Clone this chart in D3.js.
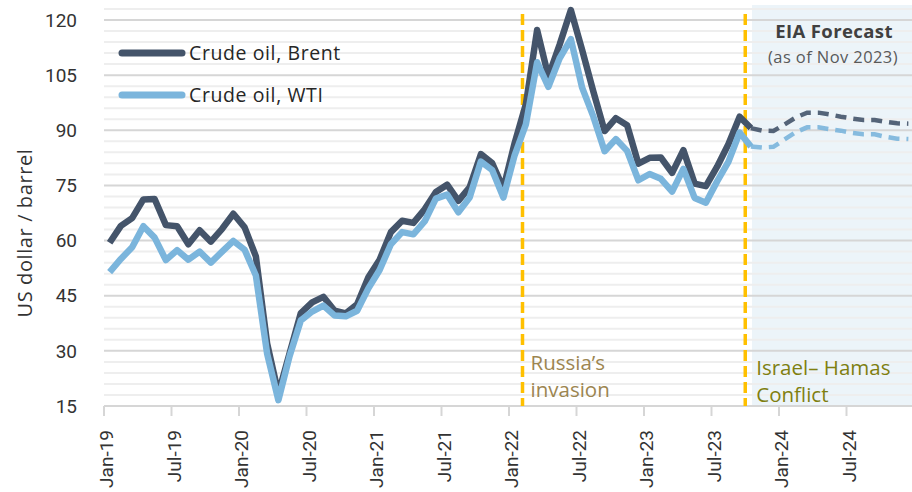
<!DOCTYPE html>
<html><head><meta charset="utf-8">
<script src="https://cdn.jsdelivr.net/npm/d3@7"></script>
<style>body{margin:0;background:#fff}svg{display:block}</style>
</head><body>
<svg id="c" width="912" height="492"></svg>
<script>
// ---- data ----
const brentActual = [
  59.4, 64.0, 66.1, 71.2, 71.3, 64.2, 63.9, 59.0, 62.8, 59.7, 63.2, 67.3,
  63.6, 55.7, 32.0, 18.4, 29.4, 40.3, 43.2, 44.7, 40.9, 40.2, 42.7, 50.0,
  54.8, 62.3, 65.4, 64.8, 68.5, 73.2, 75.2, 70.8, 74.5, 83.5, 81.1, 74.2,
  86.5, 97.1, 117.3, 104.6, 113.3, 122.7, 111.9, 100.5, 89.8, 93.3, 91.4, 80.9,
  82.5, 82.6, 78.4, 84.6, 75.5, 74.8, 80.1, 86.2, 93.7, 90.6
];
const wtiActual = [
  51.4, 55.0, 58.2, 63.9, 60.8, 54.7, 57.4, 54.8, 57.0, 54.0, 57.0, 59.9,
  57.5, 50.5, 29.2, 16.6, 28.6, 38.3, 40.7, 42.3, 39.6, 39.4, 40.9, 47.0,
  52.0, 59.0, 62.3, 61.7, 65.2, 71.4, 72.5, 67.7, 71.7, 81.5, 79.2, 71.7,
  83.2, 91.6, 108.5, 101.8, 109.6, 114.8, 101.6, 93.7, 84.3, 87.6, 84.4, 76.4,
  78.1, 76.8, 73.3, 79.5, 71.6, 70.3, 76.1, 81.4, 89.4, 85.6
];
// forecast: Oct-23 .. Dec-24 (EIA, Nov 2023)
const brentForecast = [90.6, 89.9, 89.8, 91.6, 93.5, 94.8, 94.8, 94.3, 93.7, 93.2, 92.8, 92.8, 92.3, 91.9, 91.8];
const wtiForecast   = [85.6, 85.3, 85.5, 87.5, 89.5, 90.8, 90.8, 90.3, 89.9, 89.3, 88.9, 88.9, 88.2, 87.7, 87.6];
const forecastStartIndex = 57;
const totalMonths = 72;
const xTickLabels = ["Jan-19","Jul-19","Jan-20","Jul-20","Jan-21","Jul-21","Jan-22","Jul-22","Jan-23","Jul-23","Jan-24","Jul-24"];
const yTicks = [15, 30, 45, 60, 75, 90, 105, 120];
const events = [
  {pos: 37.2, lines: ["Russia\u02BCs", "invasion"], color: "#9C8550", dx: 8, y0: 370},
  {pos: 57.0, lines: ["Israel\u2013 Hamas", "Conflict"], color: "#7F7F10", dx: 11, y0: 375}
];
const seriesNames = ["Crude oil, Brent", "Crude oil, WTI"];
const seriesColors = ["#44546A", "#7BB5DC"];

// ---- chart ----
const svg = d3.select("#c");
const x = d3.scaleLinear().domain([0, totalMonths]).range([104, 914]);
const y = d3.scaleLinear().domain([15, 120]).range([406, 20]);
const FONT = "Roboto, 'Noto Sans', sans-serif";
const FONT2 = "'Open Sans', 'Noto Sans', sans-serif";

// forecast shading
const shadeStart = 57.6;
svg.append("rect")
  .attr("x", x(shadeStart)).attr("y", 5)
  .attr("width", 912 - x(shadeStart)).attr("height", y(15) - 5)
  .attr("fill", "#ECF4F9");

// gridlines
const gridVals = d3.range(18, 124, 3);
svg.append("g").selectAll("line").data(gridVals).join("line")
  .attr("x1", x(0)).attr("x2", 912)
  .attr("y1", d => y(d)).attr("y2", d => y(d))
  .attr("stroke", d => (d - 15) % 15 === 0 ? "#D6D6D6" : "#EEEEEE")
  .attr("stroke-width", 2);

// x axis line + ticks
svg.append("line").attr("x1", x(0)).attr("x2", 912)
  .attr("y1", y(15)).attr("y2", y(15))
  .attr("stroke", "#D6D6D6").attr("stroke-width", 2);
const tickPos = xTickLabels.map((d, i) => i * 6);
svg.append("g").selectAll("line").data(tickPos).join("line")
  .attr("x1", d => x(d)).attr("x2", d => x(d))
  .attr("y1", y(15)).attr("y2", y(15) + 10)
  .attr("stroke", "#D6D6D6").attr("stroke-width", 2);
svg.append("g").selectAll("text").data(xTickLabels).join("text")
  .attr("transform", (d, i) => `translate(${x(tickPos[i]) + 9},430) rotate(-90)`)
  .attr("text-anchor", "end")
  .attr("font-family", FONT).attr("font-size", 19).attr("fill", "#333")
  .text(d => d);

// y labels
svg.append("g").selectAll("text").data(yTicks).join("text")
  .attr("x", 77).attr("y", d => y(d)).attr("dy", "0.35em")
  .attr("text-anchor", "end")
  .attr("font-family", FONT).attr("font-size", 19).attr("fill", "#333")
  .text(d => d);
svg.append("text")
  .attr("transform", `translate(32,233) rotate(-90)`)
  .attr("text-anchor", "middle")
  .attr("font-family", FONT2).attr("font-size", 20).attr("letter-spacing", 0.6)
  .attr("fill", "#333")
  .text("US dollar / barrel");

// event lines
events.forEach(ev => {
  svg.append("line")
    .attr("x1", x(ev.pos)).attr("x2", x(ev.pos))
    .attr("y1", 14).attr("y2", y(15))
    .attr("stroke", "#FFC000").attr("stroke-width", 3.5)
    .attr("stroke-dasharray", "11,5");
  ev.lines.forEach((t, k) => {
    svg.append("text")
      .attr("x", x(ev.pos) + ev.dx).attr("y", ev.y0 + k * 27)
      .attr("font-family", FONT2).attr("font-size", 20.5)
      .attr("fill", ev.color).text(t);
  });
});

// forecast header
svg.append("text").attr("x", 834).attr("y", 38).attr("text-anchor", "middle")
  .attr("font-family", FONT2).attr("font-weight", "bold").attr("font-size", 18.5)
  .attr("letter-spacing", 0.4)
  .attr("fill", "#404040").text("EIA Forecast");
svg.append("text").attr("x", 833).attr("y", 63).attr("text-anchor", "middle")
  .attr("font-family", FONT2).attr("font-size", 16.5).attr("letter-spacing", 0.4)
  .attr("fill", "#595959").text("(as of Nov 2023)");

// lines
const line = d3.line().x(d => x(d.i + 0.5)).y(d => y(d.v));
const toPts = (arr, off) => arr.map((v, i) => ({i: i + off, v}));
[brentForecast, wtiForecast].forEach((arr, s) => {
  svg.append("path").datum(toPts(arr, forecastStartIndex))
    .attr("d", line).attr("fill", "none")
    .attr("stroke", seriesColors[s]).attr("stroke-width", 4.5)
    .attr("stroke-dasharray", "11,7").attr("stroke-opacity", 0.9);
});
[brentActual, wtiActual].forEach((arr, s) => {
  svg.append("path").datum(toPts(arr, 0))
    .attr("d", line).attr("fill", "none")
    .attr("stroke", seriesColors[s]).attr("stroke-width", 6.5)
    .attr("stroke-linejoin", "round");
});

// legend
seriesNames.forEach((n, k) => {
  const ly = 53 + k * 42;
  svg.append("line").attr("x1", 122).attr("x2", 182).attr("y1", ly).attr("y2", ly)
    .attr("stroke", seriesColors[k]).attr("stroke-width", 7).attr("stroke-linecap", "round");
  svg.append("text").attr("x", 189).attr("y", ly).attr("dy", "0.35em")
    .attr("font-family", FONT2).attr("font-size", 19.5).attr("letter-spacing", 0.6)
    .attr("fill", "#262626").text(n);
});
</script>
</body></html>
